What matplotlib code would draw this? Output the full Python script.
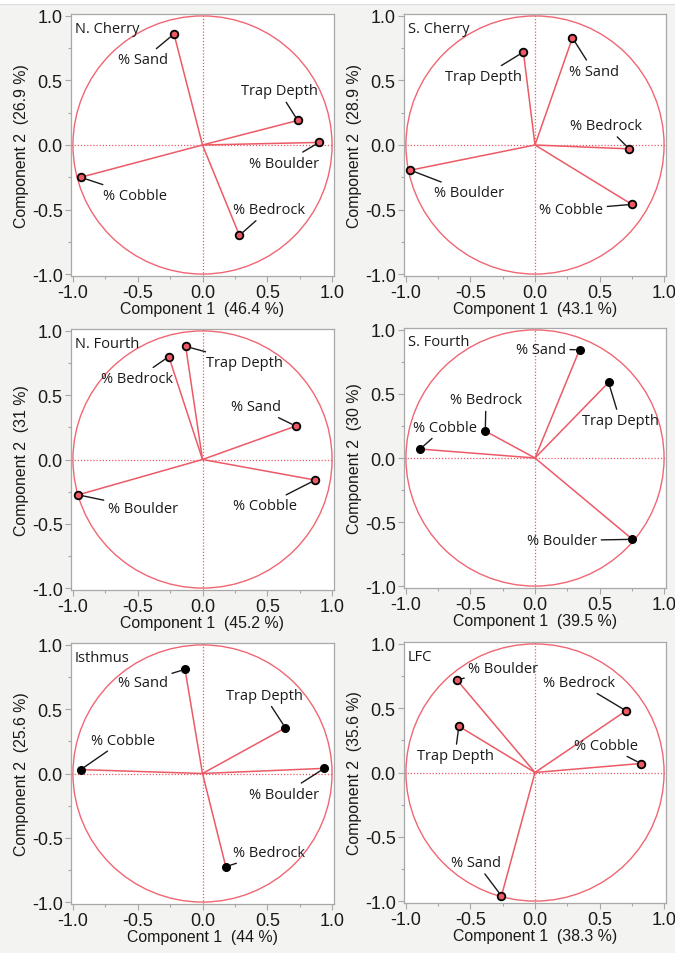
import numpy as np
import matplotlib
matplotlib.use("Agg")
import matplotlib.pyplot as plt
from matplotlib.patches import Circle
from matplotlib.ticker import MultipleLocator, FormatStrFormatter

plt.rcParams["axes.unicode_minus"] = False

# ---------------- data ----------------
panel_titles = ["N. Cherry", "S. Cherry", "N. Fourth", "S. Fourth", "Isthmus", "LFC"]
comp1_pct = ["46.4", "43.1", "45.2", "39.5", "44", "38.3"]
comp2_pct = ["26.9", "28.9", "31", "30", "25.6", "35.6"]

variables = ["% Sand", "Trap Depth", "% Boulder", "% Cobble", "% Bedrock"]

# loadings (x = Component 1, y = Component 2), order follows `variables`
ncherry_x = [-0.22, 0.735, 0.90, -0.94, 0.285]
ncherry_y = [0.86, 0.19, 0.02, -0.25, -0.70]

scherry_x = [0.29, -0.09, -0.965, 0.75, 0.73]
scherry_y = [0.83, 0.72, -0.195, -0.46, -0.03]

nfourth_x = [0.72, -0.13, -0.96, 0.87, -0.26]
nfourth_y = [0.26, 0.88, -0.275, -0.16, 0.80]

sfourth_x = [0.345, 0.57, 0.755, -0.89, -0.385]
sfourth_y = [0.845, 0.59, -0.635, 0.07, 0.21]

isthmus_x = [-0.135, 0.64, 0.94, -0.94, 0.18]
isthmus_y = [0.81, 0.355, 0.04, 0.03, -0.725]

lfc_x = [-0.26, -0.59, -0.605, 0.82, 0.705]
lfc_y = [-0.96, 0.36, 0.72, 0.07, 0.48]

loadings_x = [ncherry_x, scherry_x, nfourth_x, sfourth_x, isthmus_x, lfc_x]
loadings_y = [ncherry_y, scherry_y, nfourth_y, sfourth_y, isthmus_y, lfc_y]

# label positions (layout only)
label_pos = [
    [(-0.46, 0.66), (0.59, 0.42), (0.63, -0.14), (-0.52, -0.39), (0.51, -0.50)],
    [(0.455, 0.57), (-0.40, 0.53), (-0.51, -0.37), (0.28, -0.50), (0.55, 0.15)],
    [(0.415, 0.41), (0.325, 0.755), (-0.46, -0.38), (0.48, -0.36), (-0.505, 0.63)],
    [(0.045, 0.85), (0.66, 0.29), (0.21, -0.645), (-0.70, 0.24), (-0.38, 0.455)],
    [(-0.46, 0.71), (0.475, 0.61), (0.63, -0.16), (-0.61, 0.26), (0.515, -0.615)],
    [(-0.455, -0.70), (-0.62, 0.13), (-0.245, 0.81), (0.55, 0.21), (0.34, 0.70)],
]
red_heads = [True, True, True, False, False, True]

# axes rectangles in pixels (left, top, right, bottom)
W, H = 675, 954
px_rects = [
    (71, 15, 334, 277), (404, 15, 666, 277),
    (71, 330, 334, 591), (404, 329, 666, 589),
    (71, 644, 334, 905), (404, 643, 666, 904),
]

RED = "#ec5a66"
CIRC = "#f06673"
FRAME = "#a8a8a8"
BG = "#f3f3f1"
TXT = "#1a1a1a"

fig = plt.figure(figsize=(W / 100, H / 100), dpi=100, facecolor=BG)
fig.patches.append(plt.Rectangle((0, 1 - 5 / H), 1, 5 / H, transform=fig.transFigure,
                                 facecolor="white", edgecolor="none", zorder=0))
fig.add_artist(plt.Line2D([0, 1], [1 - 5 / H, 1 - 5 / H], transform=fig.transFigure,
                          color="#dddddd", lw=0.8))

tick_family = ["Liberation Sans", "DejaVu Sans"]
lab_font = ["Open Sans", "DejaVu Sans"]

for i in range(6):
    l, t, r, b = px_rects[i]
    ax = fig.add_axes([l / W, 1 - b / H, (r - l) / W, (b - t) / H])
    ax.set_facecolor("white")
    lim = 1.015
    ax.set_xlim(-lim, lim)
    ax.set_ylim(-lim, lim)
    for s in ax.spines.values():
        s.set_color(FRAME)
        s.set_linewidth(0.9)
    ax.xaxis.set_major_locator(MultipleLocator(0.5))
    ax.yaxis.set_major_locator(MultipleLocator(0.5))
    ax.xaxis.set_minor_locator(MultipleLocator(0.25))
    ax.yaxis.set_minor_locator(MultipleLocator(0.25))
    ax.xaxis.set_major_formatter(FormatStrFormatter("%.1f"))
    ax.yaxis.set_major_formatter(FormatStrFormatter("%.1f"))
    ax.tick_params(which="major", length=4, width=0.8, color=FRAME, labelsize=13,
                   labelcolor=TXT, pad=2)
    ax.tick_params(which="minor", length=2.5, width=0.8, color=FRAME)
    for lbl in ax.get_xticklabels() + ax.get_yticklabels():
        lbl.set_family(tick_family)

    ax.set_xlabel(f"Component 1  ({comp1_pct[i]} %)", fontsize=11.4,
                  family=tick_family, color=TXT, labelpad=0)
    ax.set_ylabel(f"Component 2  ({comp2_pct[i]} %)", fontsize=11.4,
                  family=tick_family, color=TXT, labelpad=2)

    ax.add_patch(Circle((0, 0), 1.0, fill=False, edgecolor=CIRC, lw=1.0, zorder=2))
    ax.axhline(0, color=RED, lw=0.9, ls=(0, (1, 1.5)), zorder=1)
    ax.axvline(0, color=RED, lw=0.9, ls=(0, (1, 1.5)), zorder=1)

    ax.text(0.015, 0.975, panel_titles[i], transform=ax.transAxes, ha="left", va="top",
            fontsize=10.5, family=lab_font, color=TXT)

    xs = loadings_x[i]
    ys = loadings_y[i]
    for j, name in enumerate(variables):
        x, y = xs[j], ys[j]
        ax.plot([0, x], [0, y], color=RED, lw=1.1, zorder=3, solid_capstyle="butt")
        if red_heads[i]:
            ax.plot([x], [y], marker="o", ms=5.5, mfc=RED, mec="black", mew=1.3, zorder=4)
        else:
            ax.plot([x], [y], marker="o", ms=5.5, color="black", zorder=4)
        lx, ly = label_pos[i][j]
        ax.annotate(name, xy=(x, y), xytext=(lx, ly), ha="center", va="center",
                    fontsize=10.5, family=lab_font, color=TXT, zorder=6,
                    arrowprops=dict(arrowstyle="-", color=TXT, lw=1.0,
                                    shrinkA=1, shrinkB=3))

fig.savefig("out.png", dpi=100, facecolor=BG)
